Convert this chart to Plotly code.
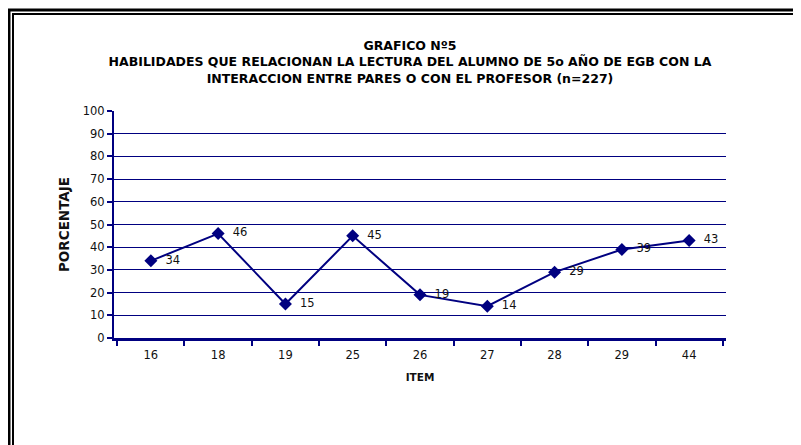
import plotly.graph_objects as go

items = ["16", "18", "19", "25", "26", "27", "28", "29", "44"]
porcentaje = [34, 46, 15, 45, 19, 14, 29, 39, 43]
y_ticks = [0, 10, 20, 30, 40, 50, 60, 70, 80, 90, 100]
grid_ticks = [10, 20, 30, 40, 50, 60, 70, 80, 90]

_NAVY = "#000080"
_FONT = "DejaVu Sans, Verdana, sans-serif"

# the page puts the figure 8px in from the top-left corner
OFF = 8
W, H = 801 - OFF, 445 - OFF
L, T = 114 - OFF, 111 - OFF
R, B = W - (726 - OFF), H - (338 - OFF)
PW, PH = W - L - R, H - T - B


def px_x(x):
    return (x - OFF - L) / PW


def px_y(y):
    return 1 + (T - (y - OFF)) / PH


fig = go.Figure()

fig.add_trace(go.Scatter(
    x=items,
    y=porcentaje,
    mode="lines+markers+text",
    line=dict(color=_NAVY, width=2),
    marker=dict(color=_NAVY, size=10, symbol="diamond"),
    text=[str(v) for v in porcentaje],
    texttemplate="  %{text}",
    textposition="middle right",
    textfont=dict(family=_FONT, size=11.5, color="#111111"),
    showlegend=False,
))

# invisible trace on the overlay axis so its gridlines are drawn
fig.add_trace(go.Scatter(
    x=items, y=porcentaje, yaxis="y2", mode="none",
    showlegend=False, hoverinfo="skip",
))

# double frame round the chart
for x0, y0, w in [(9, 10, 3), (13, 14, 2)]:
    fig.add_shape(
        type="rect", xref="paper", yref="paper",
        x0=px_x(x0), y0=-3, x1=3, y1=px_y(y0),
        line=dict(color="#000000", width=w),
        layer="below",
    )

fig.update_layout(
    width=W,
    height=H,
    margin=dict(l=L, r=R, t=T, b=B),
    paper_bgcolor="white",
    plot_bgcolor="white",
    font=dict(family=_FONT, size=11.5, color="#111111"),
    title=dict(
        text=("GRAFICO Nº5<br>HABILIDADES QUE RELACIONAN LA LECTURA DEL ALUMNO DE 5o AÑO DE EGB CON LA"
              "<br>INTERACCION ENTRE PARES O CON EL PROFESOR (n=227)"),
        x=(410 - OFF) / W,
        xanchor="center",
        y=1 - (50 - OFF) / H,
        yanchor="top",
        font=dict(family=_FONT, size=12.5, color="#000000", weight="bold"),
    ),
    xaxis=dict(
        type="category",
        showline=True,
        linecolor=_NAVY,
        linewidth=2.5,
        ticks="outside",
        tickson="boundaries",
        ticklen=5,
        tickwidth=2,
        tickcolor=_NAVY,
        ticklabelstandoff=4,
        showgrid=False,
        zeroline=False,
        title=dict(text="<b>ITEM</b>", font=dict(size=10.5), standoff=14),
    ),
    yaxis=dict(
        range=[0, 100],
        tickvals=y_ticks,
        showline=True,
        linecolor=_NAVY,
        linewidth=2,
        ticks="outside",
        ticklen=5,
        tickwidth=1.5,
        tickcolor=_NAVY,
        showgrid=False,
        zeroline=False,
        title=dict(text="<b>PORCENTAJE</b>", font=dict(size=13.5), standoff=10),
    ),
    yaxis2=dict(
        overlaying="y",
        range=[0, 100],
        tickvals=grid_ticks,
        showticklabels=False,
        showgrid=True,
        gridcolor=_NAVY,
        gridwidth=1,
        zeroline=False,
        layer="below traces",
    ),
)

fig.write_html("out.html")
